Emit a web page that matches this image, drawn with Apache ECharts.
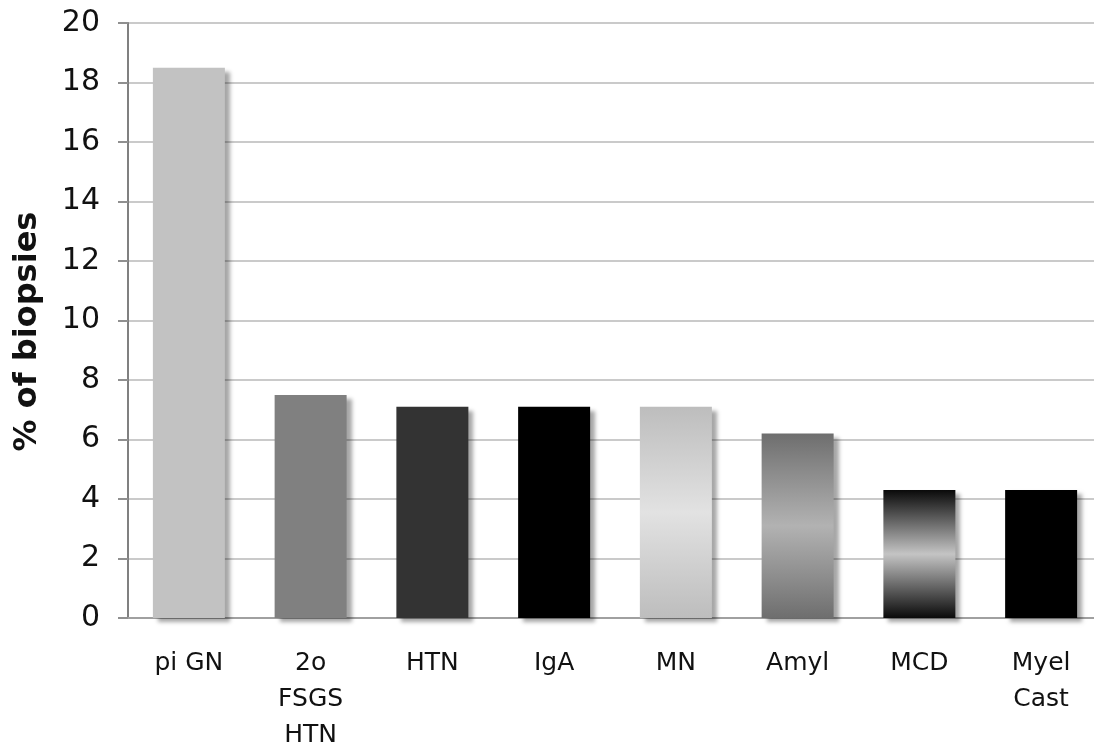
<!DOCTYPE html>
<html>
<head>
<meta charset="utf-8">
<script src="https://cdn.jsdelivr.net/npm/echarts@6/dist/echarts.min.js"></script>
<style>
html,body{margin:0;padding:0;background:#fff;}
#chart{width:1094px;height:746px;}
</style>
</head>
<body>
<div id="chart"></div>
<script>
// ---- data ----
var categories = ['pi GN', '2o\nFSGS\nHTN', 'HTN', 'IgA', 'MN', 'Amyl', 'MCD', 'Myel\nCast'];
var values = [18.5, 7.5, 7.1, 7.1, 7.1, 6.2, 4.3, 4.3];
var yTicks = [0, 2, 4, 6, 8, 10, 12, 14, 16, 18, 20];
var yAxisTitle = '% of biopsies';

// ---- styles (one fill per bar) ----
function vgrad(stops) {
  return new echarts.graphic.LinearGradient(0, 0, 0, 1, stops.map(function (s) { return { offset: s[0], color: s[1] }; }));
}
var fills = [
  '#c2c2c2',
  '#808080',
  '#333333',
  '#000000',
  vgrad([[0, '#bdbdbd'], [0.5, '#e2e2e2'], [1, '#bdbdbd']]),
  vgrad([[0, '#6e6e6e'], [0.2, '#8a8a8a'], [0.5, '#b2b2b2'], [0.8, '#8a8a8a'], [1, '#6e6e6e']]),
  vgrad([[0, '#0a0a0a'], [0.5, '#c4c4c4'], [1, '#0a0a0a']]),
  '#000000'
];

var chart = echarts.init(document.getElementById('chart'), null, { renderer: 'canvas' });
chart.setOption({
  animation: false,
  backgroundColor: '#ffffff',
  grid: {
    left: 128, top: 23, bottom: 128, width: 974,
    outerBoundsMode: 'none',
    containLabel: false,
    show: true, borderColor: '#909090', borderWidth: 2, backgroundColor: 'transparent'
  },
  xAxis: {
    type: 'category',
    data: categories,
    axisLine: { show: true, lineStyle: { color: '#a0a0a0', width: 2 } },
    axisTick: { show: false },
    axisLabel: {
      interval: 0, margin: 27, color: '#111', fontFamily: 'DejaVu Sans', fontSize: 25, lineHeight: 36
    },
    splitLine: { show: false }
  },
  yAxis: {
    type: 'value',
    min: yTicks[0], max: yTicks[yTicks.length - 1], interval: yTicks[1] - yTicks[0],
    name: yAxisTitle,
    nameLocation: 'middle',
    nameGap: 84,
    nameRotate: 90,
    nameTextStyle: { fontFamily: 'DejaVu Sans', fontWeight: 'bold', fontSize: 32, color: '#111', padding: [0, 22, 0, 0] },
    axisLine: { show: true, lineStyle: { color: '#808080', width: 2 } },
    axisTick: { show: true, length: 10, lineStyle: { color: '#909090', width: 2 } },
    axisLabel: { margin: 28, color: '#111', fontFamily: 'DejaVu Sans', fontSize: 30 },
    splitLine: { show: true, lineStyle: { color: '#cacaca', width: 2 } }
  },
  series: [{
    type: 'bar',
    barWidth: 72,
    data: values.map(function (v, i) {
      return { value: v, itemStyle: { color: fills[i] } };
    }),
    itemStyle: {
      shadowColor: 'rgba(0,0,0,0.35)',
      shadowBlur: 4,
      shadowOffsetX: 5,
      shadowOffsetY: 4
    }
  }]
});
</script>
</body>
</html>
